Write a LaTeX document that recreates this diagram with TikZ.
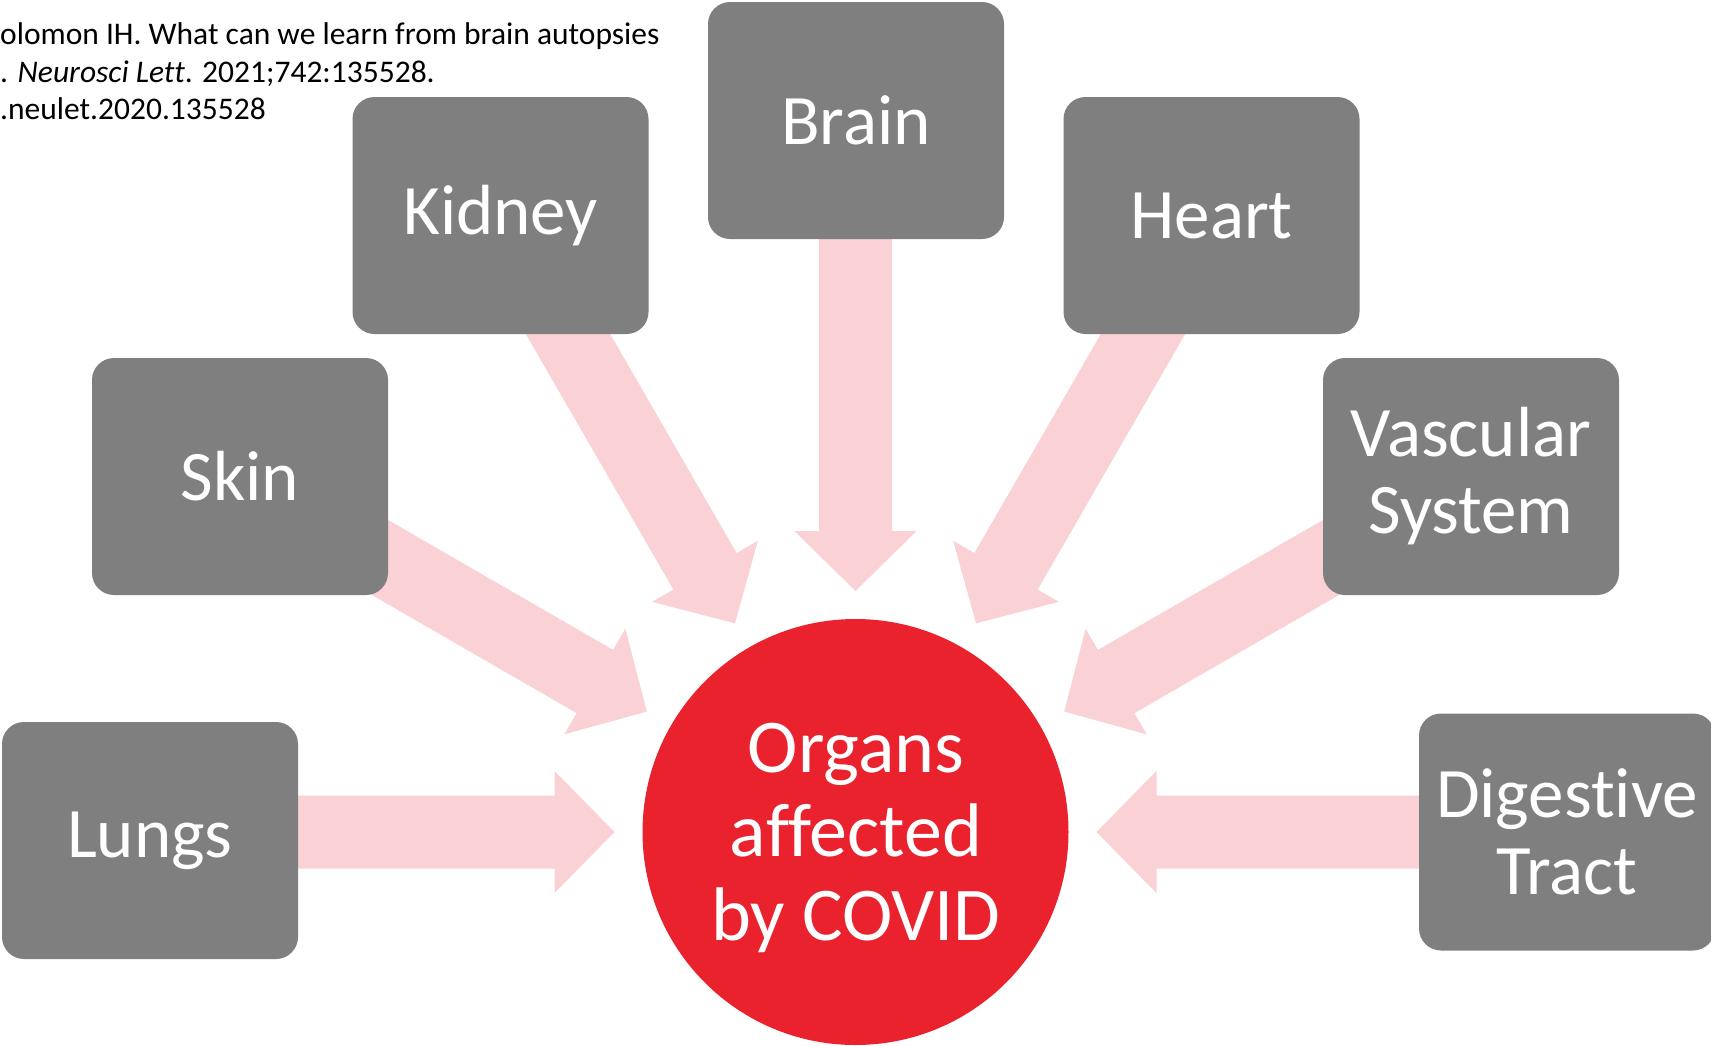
\documentclass[tikz,border=0pt]{standalone}
\usepackage{fontspec}
\setmainfont{Carlito}[Ligatures=CommonOff]
\definecolor{boxgray}{RGB}{127,127,127}
\definecolor{covred}{RGB}{234,34,46}
\definecolor{arrowpink}{RGB}{250,209,212}
\tikzset{
  organ/.style={fill=boxgray, rounded corners=22pt, minimum width=296pt, minimum height=237pt,
    inner sep=0pt, text=white, font=\fontsize{71}{77}\selectfont, align=center},
  hub/.style={circle, fill=covred, minimum size=426pt, inner sep=0pt},
  hubtext/.style={inner sep=0pt, text=white, font=\fontsize{76}{84}\selectfont, align=center},
  citeline/.style={anchor=base west, inner sep=0pt, font=\fontsize{31.5}{37}\selectfont},
  fatarrow/.style={fill=arrowpink}
}
\newcommand{\organarrow}[1]{%
  \begin{scope}[shift={(hubnode.center)},rotate=#1]
    \fill[fatarrow] (620,-36.5) -- (301,-36.5) -- (301,-61) -- (241,0) -- (301,61) -- (301,36.5) -- (620,36.5) -- cycle;
  \end{scope}}
\begin{document}
\begin{tikzpicture}[x=1pt,y=-1pt]
\useasboundingbox (0,0) rectangle (1711,1045);
\clip (0,0) rectangle (1711,1045);
\fill[white] (0,0) rectangle (1711,1045);

\node[hub] (hubnode) at (855.5,832) {};
\node[hubtext] (hublabel) at (856,838) {Organs\\affected\\by COVID};

\organarrow{0}
\organarrow{30}
\organarrow{60}
\organarrow{90}
\organarrow{120}
\organarrow{150}
\organarrow{180}

\node[organ] (brain) at (856,120.5) {Brain};
\node[organ] (kidney) at (500.5,215.5) {Kidney};
\node[organ] (heart) at (1211.5,215.5) {Heart};
\node[organ] (skin) at (240,476.5) {Skin};
\node[organ] (vascular) at (1471,476.5) {Vascular\\System};
\node[organ] (lungs) at (150,840.5) {Lungs};
\node[organ] (digestive) at (1567,832) {Digestive\\Tract};

\node[citeline] (cite1) at (0,44) {olomon IH. What can we learn from brain autopsies};
\node[citeline] (cite2) at (0,82) {. \textit{Neurosci Lett}. 2021;742:135528.};
\node[citeline] (cite3) at (0,119) {.neulet.2020.135528};
\end{tikzpicture}
\end{document}
